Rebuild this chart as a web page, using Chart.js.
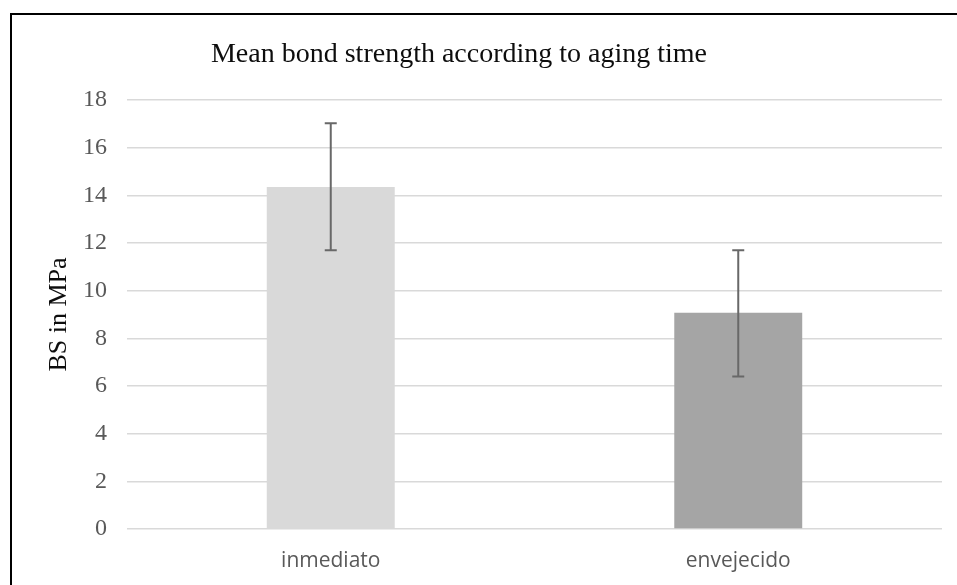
<!DOCTYPE html>
<html>
<head>
<meta charset="utf-8">
<script src="https://cdn.jsdelivr.net/npm/chart.js@4"></script>
<style>
  html, body { margin: 0; padding: 0; background: #fff; overflow: hidden; }
  #wrap { position: relative; width: 957px; height: 585px; }
  #frame {
    position: absolute; left: 10px; top: 13px; width: 1000px; height: 600px;
    border-top: 2px solid #000; border-left: 2px solid #000; pointer-events: none;
  }
  canvas { position: absolute; left: 0; top: 0; }
</style>
</head>
<body>
<div id="wrap">
  <canvas id="chart" width="957" height="585"></canvas>
  <div id="frame"></div>
</div>
<script>
const categories = ["inmediato", "envejecido"];
const meanValues = [14.35, 9.07];
const errLower = [11.7, 6.4];
const errUpper = [17.02, 11.7];
const barColors = ["#d9d9d9", "#a5a5a5"];
const chartTitle = "Mean bond strength according to aging time";

const errorBars = {
  id: "errorBars",
  afterDatasetsDraw(chart) {
    const { ctx, scales } = chart;
    const meta = chart.getDatasetMeta(0);
    ctx.save();
    ctx.strokeStyle = "#686868";
    ctx.lineWidth = 2;
    meta.data.forEach((bar, i) => {
      const top = scales.y.getPixelForValue(errUpper[i]);
      const bot = scales.y.getPixelForValue(errLower[i]);
      ctx.beginPath();
      ctx.moveTo(bar.x, top);
      ctx.lineTo(bar.x, bot);
      ctx.moveTo(bar.x - 6, top);
      ctx.lineTo(bar.x + 6, top);
      ctx.moveTo(bar.x - 6, bot);
      ctx.lineTo(bar.x + 6, bot);
      ctx.stroke();
    });
    ctx.restore();
  },
};

const titlePlugin = {
  id: "titleText",
  afterDraw(chart) {
    const ctx = chart.ctx;
    ctx.save();
    ctx.fillStyle = "#0d0d0d";
    ctx.font = "28px 'Liberation Serif'";
    ctx.textAlign = "center";
    ctx.textBaseline = "alphabetic";
    ctx.fillText(chartTitle, 459, 62);
    ctx.restore();
  },
};

new Chart(document.getElementById("chart"), {
  type: "bar",
  data: {
    labels: categories,
    datasets: [
      {
        data: meanValues,
        backgroundColor: barColors,
        borderWidth: 0,
        barPercentage: 0.314,
        categoryPercentage: 1,
      },
    ],
  },
  options: {
    responsive: false,
    animation: false,
    devicePixelRatio: 1,
    layout: { padding: { top: 100, right: 15, bottom: 0, left: 0 } },
    plugins: {
      legend: { display: false },
      tooltip: { enabled: false },
    },
    scales: {
      x: {
        grid: { display: false, drawTicks: false },
        border: { display: false },
        ticks: { color: "#595959", padding: 19, font: { family: "'Open Sans'", size: 21 } },
        afterFit(scale) { scale.height = 56; },
      },
      y: {
        min: 0,
        max: 18,
        ticks: { stepSize: 2, color: "#595959", padding: 20, font: { family: "'Liberation Serif'", size: 24 } },
        grid: { color: "#d9d9d9", lineWidth: 1.5, drawTicks: false },
        border: { display: false },
        title: {
          display: true,
          text: "BS in MPa",
          color: "#0d0d0d",
          padding: { top: 44, bottom: 0 },
          font: { family: "'Liberation Serif'", size: 26 },
        },
        afterFit(scale) { scale.width = 127; },
      },
    },
  },
  plugins: [errorBars, titlePlugin],
});
</script>
</body>
</html>
